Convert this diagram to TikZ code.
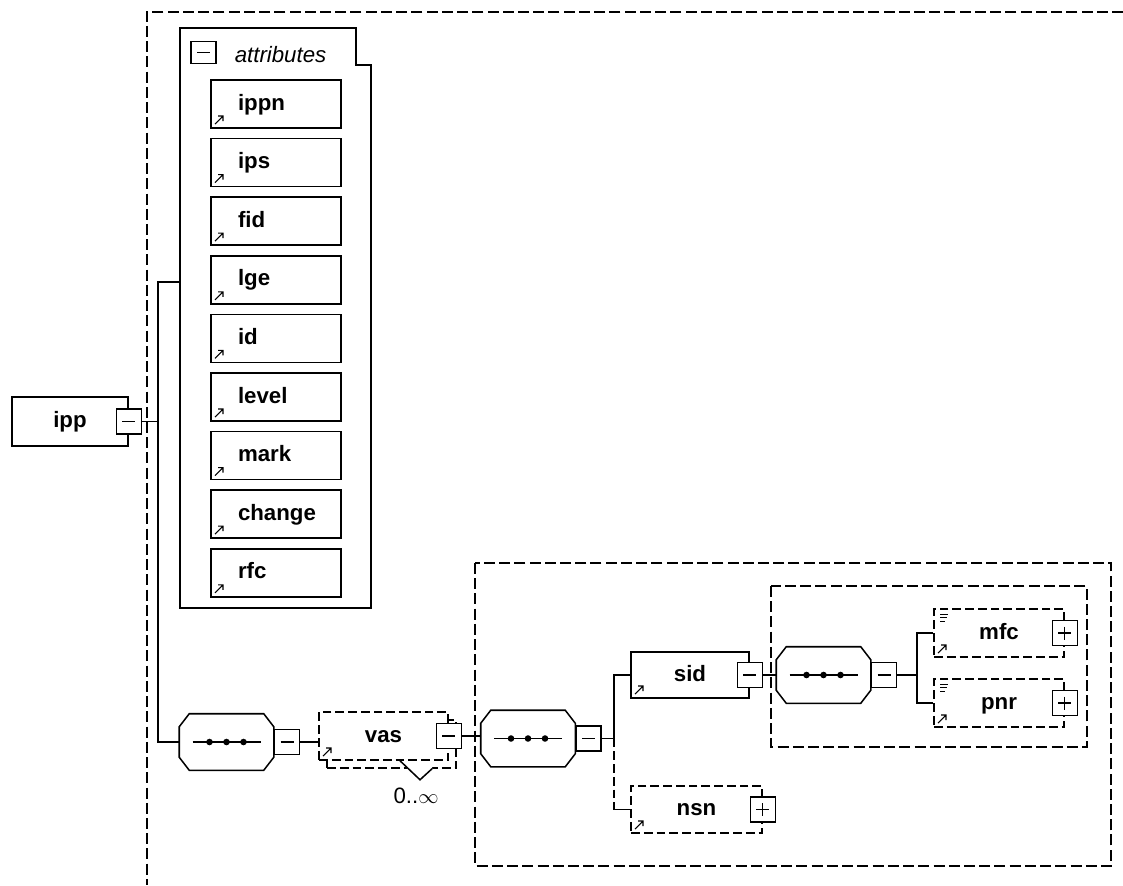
\documentclass[tikz,border=0pt]{standalone}
\usepackage{fontspec}
\setmainfont{Liberation Sans}
\usetikzlibrary{shadows}

\tikzset{
    elem/.style={draw,fill=white,line width=1.3pt,inner sep=0pt,
        minimum width=3.9cm,minimum height=1.44cm,
        text height=0.5cm,text depth=0.14cm,
        font=\fontsize{19}{22}\selectfont\bfseries},
    attr/.style={elem,text width=2.28cm,align=left,inner xsep=0.81cm},
    optional/.style={dash pattern=on 7.5pt off 3.4pt},
    frame/.style={line width=1.6pt,dash pattern=on 9.4pt off 3.6pt},
    refmark/.style={path picture={
        \draw[solid,line width=0.9pt] ([shift={(4,-4)}]path picture bounding box.south west)
            -- ++(8,-8) ++(-5,0) -- ++(5,0) -- ++(0,5);}},
    docmark/.style={path picture={
        \draw[solid,line width=0.9pt] ([shift={(4,-4)}]path picture bounding box.south west)
            -- ++(8,-8) ++(-5,0) -- ++(5,0) -- ++(0,5);
        \draw[solid,line width=0.8pt] ([shift={(6,5)}]path picture bounding box.north west) -- ++(8,0)
            ++(-8,3.5) -- ++(7,0) ++(-7,3.5) -- ++(5,0);}},
    btn/.style={draw,fill=white,solid,line width=1.3pt,minimum size=0.75cm,inner sep=0pt},
    minus/.style={btn,path picture={
        \draw[line width=1.2pt] ([shift={(-6.5,0)}]path picture bounding box.center) -- ++(13,0);}},
    plus/.style={btn,path picture={
        \draw[line width=1.2pt] ([shift={(-6.5,0)}]path picture bounding box.center) -- ++(13,0);
        \draw[line width=1.2pt] ([shift={(0,-6.5)}]path picture bounding box.center) -- ++(0,13);}},
    seq/.style={inner sep=0pt,minimum width=2.79cm,minimum height=1.65cm,
        append after command={\pgfextra{
            \draw[line width=1.3pt,fill=white]
                ([xshift=0.3cm]\tikzlastnode.north west) -- ([xshift=-0.3cm]\tikzlastnode.north east)
                -- ([yshift=-0.39cm]\tikzlastnode.north east) -- ([yshift=0.39cm]\tikzlastnode.south east)
                -- ([xshift=-0.3cm]\tikzlastnode.south east) -- ([xshift=0.3cm]\tikzlastnode.south west)
                -- ([yshift=0.39cm]\tikzlastnode.south west) -- ([yshift=-0.39cm]\tikzlastnode.north west)
                -- cycle;
            \draw[line width=1.3pt] ([xshift=-1.02cm]\tikzlastnode.center) -- ([xshift=1.02cm]\tikzlastnode.center);
            \fill ([xshift=-0.51cm]\tikzlastnode.center) circle[radius=2.8pt];
            \fill (\tikzlastnode.center) circle[radius=2.8pt];
            \fill ([xshift=0.51cm]\tikzlastnode.center) circle[radius=2.8pt];}}}
}

\begin{document}
\begin{tikzpicture}[x=0.03cm,y=-0.03cm,line width=1.3pt,font=\fontsize{19}{22}\selectfont]
    \useasboundingbox (0,0) rectangle (1123,885);

    % outer frame
    \draw[frame] (1123,12) -| (147,885);

    % root element
    \node[elem,minimum width=3.48cm,minimum height=1.47cm] (ipp) at (70,421.5) {ipp};
    \node[minus] (ippbtn) at (ipp.east) {};

    % attributes group
    \draw[fill=white] (180,608) -- (180,28) -- (356,28) -- (356,65) -- (371,65) -- (371,608) -- cycle;
    \coordinate (attrin) at (180,282);
    \node[minus,minimum height=0.66cm] (attrbtn) at (203.5,52.5) {};
    \node[anchor=base west,inner sep=0pt,font=\fontsize{19}{22}\selectfont\itshape] (attrlbl) at (234,62) {attributes};

    \node[attr,refmark] (ippn) at (276,104) {ippn};
    \node[attr,refmark] (ips) at (276,162.6) {ips};
    \node[attr,refmark] (fid) at (276,221.2) {fid};
    \node[attr,refmark] (lge) at (276,279.8) {lge};
    \node[attr,refmark] (id) at (276,338.4) {id};
    \node[attr,refmark] (level) at (276,397) {level};
    \node[attr,refmark] (mark) at (276,455.6) {mark};
    \node[attr,refmark] (change) at (276,514.2) {change};
    \node[attr,refmark] (rfc) at (276,572.8) {rfc};

    % first sequence
    \node[seq] (seq1) at (226.5,742) {};
    \node[minus,anchor=west] (seq1btn) at (seq1.east) {};

    \coordinate (fork1) at (158,421.5);
    \draw (ippbtn.east) -- (fork1);
    \draw (attrin) -| (fork1) |- (seq1.west);

    % vas
    \node[elem,optional,refmark,minimum width=3.87cm,
        general shadow={shadow xshift=0.24cm,shadow yshift=-0.24cm,draw,fill=white,line width=1.3pt,optional}]
        (vas) at (383.5,736) {vas};
    \node[minus] (vasbtn) at (vas.east) {};
    \fill[white] ([shift={(16.5,0.8)}]vas.south) -- ([shift={(36.5,19)}]vas.south)
        -- ([shift={(48.5,8)}]vas.south) -- ([shift={(48.5,0.8)}]vas.south) -- cycle;
    \draw ([shift={(16.5,0)}]vas.south) -- ([shift={(36.5,19)}]vas.south) -- ([shift={(48.5,8)}]vas.south);
    \node[inner sep=0pt] (occ) at (416,796) {0..$\infty$};
    \draw (seq1btn.east) -- (seq1btn.east -| vas.west);

    % second level
    \draw[frame] (475,563) rectangle (1111,866);
    \node[seq] (seq2) at (528,738.5) {};
    \node[minus,anchor=west] (seq2btn) at (seq2.east) {};
    \draw (vasbtn.east) -- (vasbtn.east -| seq2.west);

    \node[elem,refmark,minimum width=3.54cm,minimum height=1.38cm] (sid) at (690,675) {sid};
    \node[minus] (sidbtn) at (sid.east) {};
    \node[elem,optional,refmark,minimum width=3.93cm,minimum height=1.41cm] (nsn) at (696.5,809.5) {nsn};
    \node[plus] (nsnbtn) at (nsn.east) {};

    \coordinate (fork2) at (614,738.5);
    \draw (seq2btn.east) -- (fork2) |- (sid.west);
    \draw[optional] (fork2) -- (fork2 |- nsn.west);
    \draw (fork2 |- nsn.west) -- (nsn.west);

    % third level
    \draw[frame] (771,586) rectangle (1087,747);
    \node[seq] (seq3) at (823.5,675) {};
    \node[minus,anchor=west] (seq3btn) at (seq3.east) {};
    \draw (sidbtn.east) -- (seq3.west);

    \node[elem,optional,docmark] (mfc) at (999,633) {mfc};
    \node[plus] (mfcbtn) at (mfc.east) {};
    \node[elem,optional,docmark] (pnr) at (999,703) {pnr};
    \node[plus] (pnrbtn) at (pnr.east) {};

    \coordinate (fork3) at (917,675);
    \draw (seq3btn.east) -- (fork3);
    \draw (mfc.west) -| (fork3) |- (pnr.west);
\end{tikzpicture}
\end{document}
